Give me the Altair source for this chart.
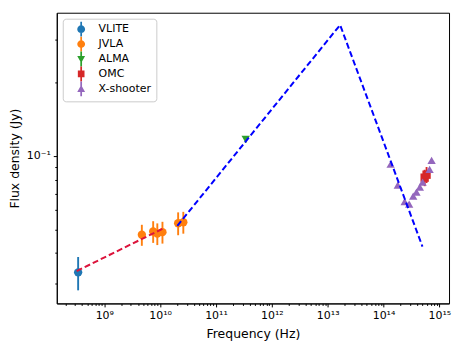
import altair as alt
import pandas as pd

# ---------------- data ----------------
INSTRUMENTS = ["VLITE", "JVLA", "ALMA", "OMC", "X-shooter"]
COLORS = ["#1f77b4", "#ff7f0e", "#2ca02c", "#d62728", "#9467bd"]

vlite_freq = [3.4e8]
vlite_flux = [0.0333]
vlite_err = [0.0052]

jvla_freq = [4.7e9, 7.5e9, 8.9e9, 1.1e10, 2.1e10, 2.6e10]
jvla_flux = [0.0475, 0.0490, 0.0480, 0.0487, 0.0530, 0.0535]
jvla_err = [0.0047, 0.0050, 0.0049, 0.0050, 0.0057, 0.0055]

alma_freq = [3.4e11]
alma_flux = [0.117]
alma_err = [0.0035]

omc_freq = [5.45e14, 5.9e14]
omc_flux = [0.0815, 0.0838]
omc_err = [0.0063, 0.0063]

xsh_freq = [1.34e14, 1.80e14, 2.39e14, 2.88e14, 3.40e14, 3.89e14, 4.47e14, 5.01e14, 6.68e14, 7.26e14]
xsh_flux = [0.0925, 0.0759, 0.0650, 0.0635, 0.0685, 0.0711, 0.0745, 0.0781, 0.0882, 0.0960]
xsh_err = [0.0010, 0.0010, 0.0010, 0.0010, 0.0010, 0.0010, 0.0010, 0.0010, 0.0010, 0.0010]

red_line_freq = [3.2e8, 1.17e10]
red_line_flux = [0.0337, 0.0506]

blue_line_freq = [2.03e10, 1.67e13, 4.98e14]
blue_line_flux = [0.0517, 0.345, 0.0425]

X_MAJOR = [1e9, 1e10, 1e11, 1e12, 1e13, 1e14, 1e15]
X_LABELS = ["10⁹", "10¹⁰", "10¹¹", "10¹²", "10¹³", "10¹⁴", "10¹⁵"]
Y_MAJOR = [0.1]
Y_LABELS = ["10⁻¹"]

X_DOMAIN = [10 ** 8.149, 10 ** 15.173]
Y_DOMAIN = [10 ** -1.605, 10 ** -0.412]

# ---------------- build tables ----------------
rows = []
for name, fr, fl, er in [
    ("VLITE", vlite_freq, vlite_flux, vlite_err),
    ("JVLA", jvla_freq, jvla_flux, jvla_err),
    ("ALMA", alma_freq, alma_flux, alma_err),
    ("OMC", omc_freq, omc_flux, omc_err),
    ("X-shooter", xsh_freq, xsh_flux, xsh_err),
]:
    for f, v, e in zip(fr, fl, er):
        rows.append({"inst": name, "freq": f, "flux": v, "lo": v - e, "hi": v + e})
pts = pd.DataFrame(rows)

red_df = pd.DataFrame({"freq": red_line_freq, "flux": red_line_flux})
blue_df = pd.DataFrame({"freq": blue_line_freq, "flux": blue_line_flux})

x_minor = [m * 10 ** e for e in range(8, 16) for m in range(2, 10)
           if X_DOMAIN[0] <= m * 10 ** e <= X_DOMAIN[1]]
y_minor = [0.03, 0.04, 0.05, 0.06, 0.07, 0.08, 0.09, 0.2, 0.3]


def label_expr(values, labels):
    expr = "''"
    for v, l in reversed(list(zip(values, labels))):
        expr = f"datum.value == {repr(float(v))} ? '{l}' : ({expr})"
    return expr


major_test = "abs(log(datum.value)/LN10 - round(log(datum.value)/LN10)) < 1e-9"
tick_size = {"condition": {"test": major_test, "value": 3.5}, "value": 2}

x_scale = alt.Scale(type="log", domain=X_DOMAIN, nice=False)
y_scale = alt.Scale(type="log", domain=Y_DOMAIN, nice=False)

x_enc = alt.X(
    "freq:Q",
    scale=x_scale,
    axis=alt.Axis(
        title="Frequency (Hz)",
        values=sorted(X_MAJOR + x_minor),
        labelExpr=label_expr(X_MAJOR, X_LABELS),
        tickSize=tick_size,
        labelPadding=3,
        titlePadding=7,
        grid=False,
    ),
)
y_enc = alt.Y(
    "flux:Q",
    scale=y_scale,
    axis=alt.Axis(
        title="Flux density (Jy)",
        values=sorted(Y_MAJOR + y_minor),
        labelExpr=label_expr(Y_MAJOR, Y_LABELS),
        tickSize=tick_size,
        labelPadding=3,
        titlePadding=5,
        grid=False,
    ),
)

color_scale = alt.Scale(domain=INSTRUMENTS, range=COLORS)

errbars = alt.Chart(pts).mark_rule(strokeWidth=1.9).encode(
    x=x_enc,
    y=alt.Y("lo:Q", scale=y_scale),
    y2="hi:Q",
    color=alt.Color("inst:N", scale=color_scale, legend=None),
)

points = alt.Chart(pts).mark_point(filled=True, opacity=1, size=70).encode(
    x=x_enc,
    y=y_enc,
    color=alt.Color("inst:N", scale=color_scale, legend=None),
    shape=alt.Shape(
        "inst:N",
        scale=alt.Scale(domain=INSTRUMENTS,
                        range=["circle", "circle", "triangle-down", "square", "triangle-up"]),
        legend=None,
    ),
)

STEM = "M-0.22,-1.9H0.22V1.9H-0.22Z"
legend_shapes = [
    "M-1,0A1,1,0,1,1,1,0A1,1,0,1,1,-1,0Z" + STEM,
    "M-1,0A1,1,0,1,1,1,0A1,1,0,1,1,-1,0Z" + STEM,
    "M-1,-0.8L1,-0.8L0,1Z" + STEM,
    "M-0.85,-0.85H0.85V0.85H-0.85Z" + STEM,
    "M0,-1L1,0.8L-1,0.8Z" + STEM,
]

leg = alt.Legend(title=None, orient="none", legendX=6, legendY=6, symbolOpacity=1)
legend_layer = alt.Chart(pts).mark_point(filled=True, opacity=0, size=62).encode(
    x=x_enc,
    y=y_enc,
    color=alt.Color("inst:N", scale=color_scale, legend=leg),
    shape=alt.Shape("inst:N", scale=alt.Scale(domain=INSTRUMENTS, range=legend_shapes),
                    legend=leg),
)

red_line = alt.Chart(red_df).mark_line(color="#dc143c", strokeWidth=2, strokeDash=[6, 3]).encode(
    x=alt.X("freq:Q", scale=x_scale),
    y=alt.Y("flux:Q", scale=y_scale),
)
blue_line = alt.Chart(blue_df).mark_line(color="#0000ff", strokeWidth=2, strokeDash=[6, 3]).encode(
    x=alt.X("freq:Q", scale=x_scale),
    y=alt.Y("flux:Q", scale=y_scale),
)

chart = (
    alt.layer(errbars, points, legend_layer, red_line, blue_line)
    .resolve_scale(color="independent", shape="independent")
    .properties(
        width=394,
        height=292,
        autosize=alt.AutoSizeParams(type="none"),
        padding={"left": 49, "top": 4, "right": 6, "bottom": 37},
    )
    .configure_view(stroke="black", strokeWidth=1)
    .configure_axis(
        domainColor="black",
        tickColor="black",
        labelColor="black",
        titleColor="black",
        labelFont="DejaVu Sans",
        titleFont="DejaVu Sans",
        labelFontSize=11,
        titleFontSize=12.5,
        titleFontWeight="normal",
        tickWidth=1,
        domainWidth=1,
    )
    .configure_legend(
        labelFont="DejaVu Sans",
        labelFontSize=11,
        labelColor="black",
        strokeColor="#cccccc",
        fillColor="white",
        cornerRadius=3,
        padding=5,
        rowPadding=0,
        labelOffset=12,
        symbolOffset=8,
        symbolSize=62,
        symbolStrokeWidth=0,
    )
)

chart.save("out.html", embed_options={"renderer": "svg", "actions": False})
